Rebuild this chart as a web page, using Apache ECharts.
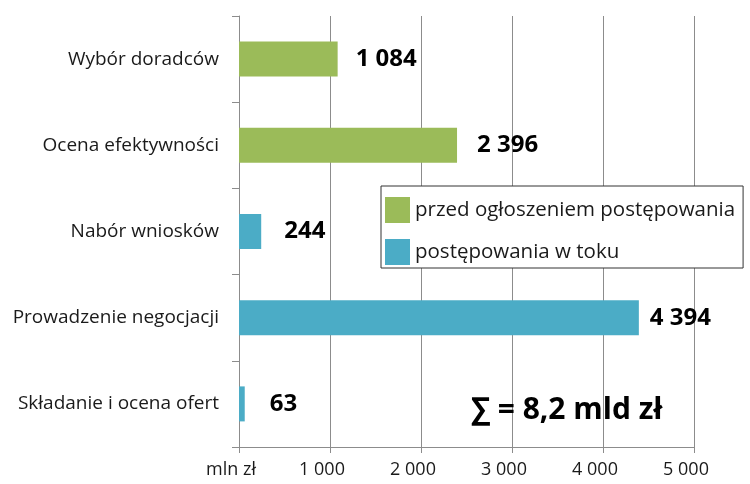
<!DOCTYPE html>
<html>
<head>
<meta charset="utf-8">
<script src="https://cdn.jsdelivr.net/npm/echarts@6/dist/echarts.min.js"></script>
<style>
  html, body { margin: 0; padding: 0; background: #fff; }
  #main { width: 750px; height: 484px; }
</style>
</head>
<body>
<div id="main"></div>
<script>
var categories = ['Wybór doradców', 'Ocena efektywności', 'Nabór wniosków', 'Prowadzenie negocjacji', 'Składanie i ocena ofert'];
var przedOgloszeniem = [1084, 2396, '-', '-', '-'];
var wToku = ['-', '-', 244, 4394, 63];
var seriesNames = ['przed ogłoszeniem postępowania', 'postępowania w toku'];
var axisUnit = 'mln zł';
var sumText = '∑ = 8,2 mld zł';

// label offsets per category (Excel placed them a bit unevenly)
var labelGap = [18, 20, 23, 11, 25];

function fmt(v) {
  return String(v).replace(/\B(?=(\d{3})+(?!\d))/g, ' ');
}

function withLabels(values) {
  return values.map(function (v, i) {
    if (v === '-') return v;
    return { value: v, label: { distance: labelGap[i] } };
  });
}

var chart = echarts.init(document.getElementById('main'));
var font = 'Open Sans';

var barLabel = {
  show: true,
  position: 'right',
  fontSize: 24,
  fontWeight: 'bold',
  color: '#000',
  formatter: function (p) { return fmt(p.value); }
};

var option = {
  animation: false,
  textStyle: { fontFamily: font },
  grid: { left: 239, right: 56, top: 16, bottom: 37, containLabel: false },
  legend: {
    orient: 'vertical',
    left: 381,
    top: 186,
    padding: [11, 8, 3, 4],
    itemWidth: 25,
    itemHeight: 26,
    itemGap: 16,
    icon: 'rect',
    backgroundColor: '#fff',
    borderColor: '#333',
    borderWidth: 1,
    borderRadius: 0,
    textStyle: { fontSize: 20.5, color: '#1a1a1a', fontFamily: font },
    data: seriesNames
  },
  xAxis: {
    type: 'value',
    min: 0,
    max: 5000,
    interval: 1000,
    axisLine: { show: true, lineStyle: { color: '#8c8c8c', width: 1 } },
    axisTick: { show: true, length: 6, lineStyle: { color: '#8c8c8c' } },
    splitLine: { show: true, lineStyle: { color: '#8c8c8c', width: 1 } },
    axisLabel: {
      fontSize: 18,
      color: '#1a1a1a',
      margin: 14,
      padding: [0, 16, 0, 0],
      formatter: function (v) { return v === 0 ? axisUnit : fmt(v); }
    }
  },
  yAxis: {
    type: 'category',
    inverse: true,
    data: categories,
    axisLine: { show: true, lineStyle: { color: '#8c8c8c', width: 1 } },
    axisTick: { show: true, length: 7, lineStyle: { color: '#8c8c8c' } },
    axisLabel: { fontSize: 19, color: '#1a1a1a', margin: 20 }
  },
  series: [
    {
      name: seriesNames[0],
      type: 'bar',
      stack: 'all',
      barWidth: 35,
      itemStyle: { color: '#9bbb59' },
      label: barLabel,
      data: withLabels(przedOgloszeniem)
    },
    {
      name: seriesNames[1],
      type: 'bar',
      stack: 'all',
      barWidth: 35,
      itemStyle: { color: '#4bacc6' },
      label: barLabel,
      data: withLabels(wToku)
    }
  ],
  graphic: [
    {
      type: 'text',
      left: 471,
      top: 395,
      z: 100,
      style: {
        text: sumText,
        font: 'bold 30px "Open Sans", "DejaVu Sans", sans-serif',
        fill: '#000'
      }
    }
  ]
};

chart.setOption(option);
</script>
</body>
</html>
